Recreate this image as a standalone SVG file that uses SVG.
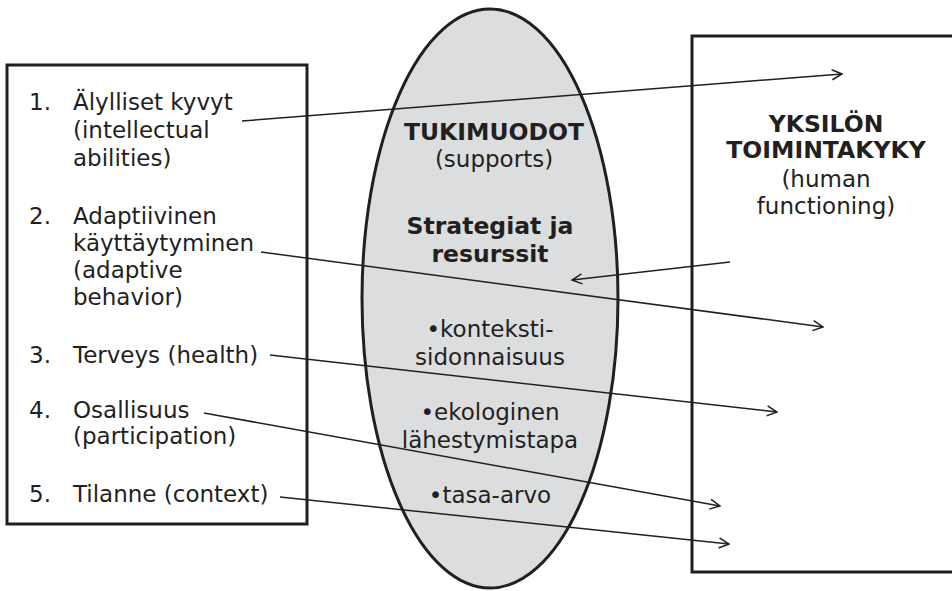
<svg xmlns="http://www.w3.org/2000/svg" width="952" height="591" viewBox="0 0 952 591">
  <style>
    text { font-family: "DejaVu Sans", Verdana, sans-serif; font-size: 23px; fill: #231f20; }
    .b { font-weight: bold; font-size: 23.5px; }
    .c { text-anchor: middle; }
    .frame { fill: #ffffff; stroke: #231f20; stroke-width: 3; }
    .oval { fill: #dcdddf; stroke: #231f20; stroke-width: 3; }
    .link { fill: none; stroke: #231f20; stroke-width: 1.5; }
  </style>
  <defs>
    <marker id="open-arrow" viewBox="0 0 12 12" refX="11" refY="6" markerWidth="12" markerHeight="12" markerUnits="userSpaceOnUse" orient="auto">
      <path d="M1,1 L11,6 L1,11" fill="none" stroke="#231f20" stroke-width="1.5"/>
    </marker>
  </defs>

  <!-- dimensions of functioning -->
  <g id="dimensions">
    <rect class="frame" x="7" y="65" width="300" height="459"/>
    <text x="29" y="110">1.</text>
    <text x="73" y="110">Älylliset kyvyt</text>
    <text x="73" y="138">(intellectual</text>
    <text x="73" y="166">abilities)</text>
    <text x="29" y="224">2.</text>
    <text x="73" y="224">Adaptiivinen</text>
    <text x="73" y="251">käyttäytyminen</text>
    <text x="73" y="278">(adaptive</text>
    <text x="73" y="305">behavior)</text>
    <text x="29" y="363">3.</text>
    <text x="73" y="363">Terveys (health)</text>
    <text x="29" y="418">4.</text>
    <text x="73" y="418">Osallisuus</text>
    <text x="73" y="444">(participation)</text>
    <text x="29" y="502">5.</text>
    <text x="73" y="502">Tilanne (context)</text>
  </g>

  <!-- supports -->
  <g id="supports">
    <ellipse class="oval" cx="490" cy="298.5" rx="128" ry="289.5"/>
    <text class="b c" x="494" y="140">TUKIMUODOT</text>
    <text class="c" x="494" y="167">(supports)</text>
    <text class="b c" x="490" y="234">Strategiat ja</text>
    <text class="b c" x="490" y="262">resurssit</text>
    <text class="c" x="490" y="337">•konteksti-</text>
    <text class="c" x="490" y="365">sidonnaisuus</text>
    <text class="c" x="490" y="420">•ekologinen</text>
    <text class="c" x="490" y="448">lähestymistapa</text>
    <text class="c" x="490" y="503">•tasa-arvo</text>
  </g>

  <!-- human functioning -->
  <g id="functioning">
    <rect class="frame" x="692" y="36" width="280" height="536"/>
    <text class="b c" x="826" y="132">YKSILÖN</text>
    <text class="b c" x="826" y="158">TOIMINTAKYKY</text>
    <text class="c" x="826" y="187">(human</text>
    <text class="c" x="826" y="214">functioning)</text>
  </g>

  <!-- connectors -->
  <g id="connectors">
    <line class="link" x1="242" y1="121" x2="842" y2="74" marker-end="url(#open-arrow)"/>
    <line class="link" x1="261" y1="252" x2="823" y2="327" marker-end="url(#open-arrow)"/>
    <line class="link" x1="270" y1="355" x2="777" y2="412" marker-end="url(#open-arrow)"/>
    <line class="link" x1="204" y1="413" x2="720" y2="506" marker-end="url(#open-arrow)"/>
    <line class="link" x1="280" y1="497" x2="729" y2="544" marker-end="url(#open-arrow)"/>
    <line class="link" x1="730" y1="262" x2="572" y2="280" marker-end="url(#open-arrow)"/>
  </g>
</svg>
